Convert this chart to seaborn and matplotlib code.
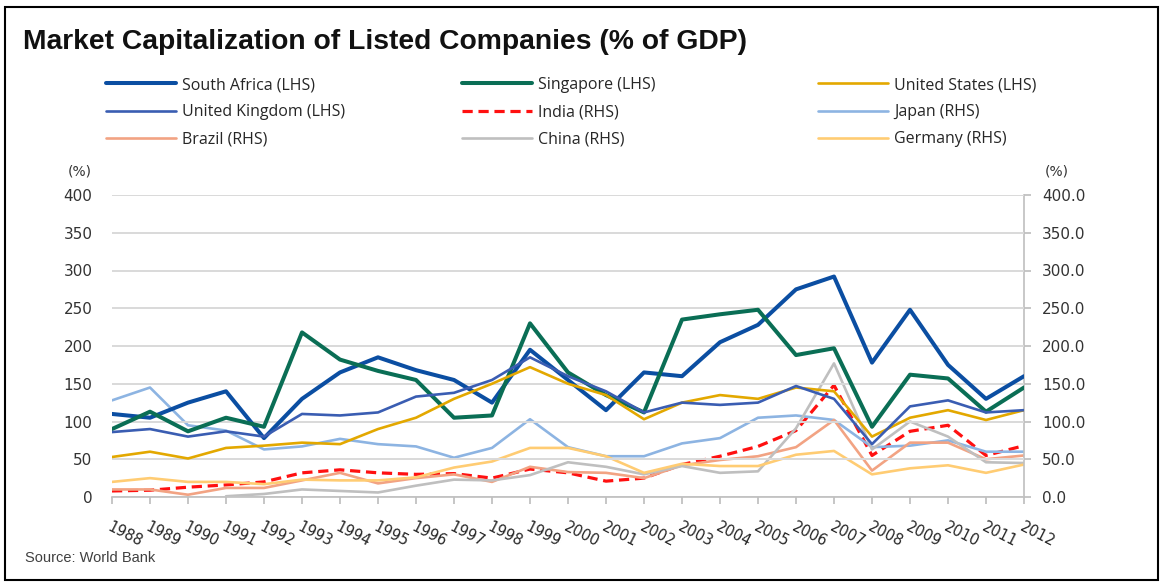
"""Market capitalization of listed companies (% of GDP), 1988-2012."""
import matplotlib
matplotlib.use("Agg")
import matplotlib.pyplot as plt
from matplotlib.patches import Rectangle
import seaborn as sns
import pandas as pd

years = list(range(1988, 2013))

# LHS series
south_africa = [110, 105, 125, 140, 78, 130, 165, 185, 168, 155, 125, 195, 155, 115,
                165, 160, 205, 228, 275, 292, 178, 248, 175, 130, 160]
singapore = [90, 113, 87, 105, 93, 218, 182, 167, 155, 105, 108, 230, 165, 135,
             112, 235, 242, 248, 188, 197, 93, 162, 157, 113, 145]
united_states = [53, 60, 51, 65, 68, 72, 70, 90, 105, 130, 150, 172, 150, 135,
                 103, 125, 135, 130, 145, 140, 80, 105, 115, 102, 115]
united_kingdom = [86, 90, 80, 87, 80, 110, 108, 112, 133, 138, 155, 185, 160, 140,
                  112, 125, 122, 125, 147, 130, 70, 120, 128, 112, 115]

# RHS series
india = [8, 9, 13, 16, 20, 32, 36, 32, 30, 31, 25, 37, 32, 21,
         25, 43, 54, 67, 88, 148, 55, 87, 95, 55, 68]
japan = [128, 145, 95, 88, 63, 67, 77, 70, 67, 52, 65, 103, 66, 54,
         54, 71, 78, 105, 108, 102, 66, 68, 75, 60, 60]
brazil = [10, 10, 3, 12, 12, 22, 32, 18, 25, 30, 20, 40, 33, 32,
          25, 42, 49, 54, 66, 102, 35, 72, 72, 50, 55]
china = [None, None, None, 1, 4, 10, 8, 6, 15, 23, 22, 29, 46, 40,
         30, 41, 32, 34, 91, 177, 63, 100, 80, 46, 45]
germany = [20, 25, 20, 20, 17, 23, 22, 22, 26, 39, 47, 65, 65, 54,
           32, 44, 41, 41, 56, 61, 30, 38, 42, 32, 43]

lhs = [
    ("South Africa (LHS)", south_africa, "#0B4EA2", 2.9, "-"),
    ("Singapore (LHS)", singapore, "#0A6E55", 2.9, "-"),
    ("United States (LHS)", united_states, "#E3A800", 1.9, "-"),
    ("United Kingdom (LHS)", united_kingdom, "#3A5DB2", 1.9, "-"),
]
rhs = [
    ("India (RHS)", india, "#FF1010", 2.3, (0, (3.2, 1.8))),
    ("Japan (RHS)", japan, "#8DB4E2", 1.9, "-"),
    ("Brazil (RHS)", brazil, "#F2A383", 1.9, "-"),
    ("China (RHS)", china, "#BFBFBF", 1.9, "-"),
    ("Germany (RHS)", germany, "#FFCC73", 1.9, "-"),
]

sns.set_theme(style="white")
plt.rcParams["font.family"] = ["Liberation Sans", "DejaVu Sans"]

W, H = 1163, 586
fig = plt.figure(figsize=(W / 100, H / 100), dpi=100)
ax = fig.add_axes([112 / W, 1 - 497 / H, (1024 - 112) / W, (497 - 195) / H])
ax2 = ax.twinx()

handles = {}
for name, vals, color, lw, ls in lhs:
    df = pd.DataFrame({"year": years, "value": vals})
    sns.lineplot(data=df, x="year", y="value", ax=ax, color=color, linewidth=lw,
                 linestyle=ls, label=name, legend=False)
    handles[name] = ax.lines[-1]
for name, vals, color, lw, ls in rhs:
    df = pd.DataFrame({"year": years, "value": vals}).dropna()
    sns.lineplot(data=df, x="year", y="value", ax=ax2, color=color, linewidth=lw,
                 linestyle=ls, label=name, legend=False)
    handles[name] = ax2.lines[-1]

# draw the LHS lines on top of the RHS ones
ax.set_zorder(ax2.get_zorder() + 1)
ax.patch.set_visible(False)

for a in (ax, ax2):
    a.set_xlim(1988, 2012)
    a.set_ylim(0, 400)
    a.set_yticks(range(0, 401, 50))
    a.set_xlabel("")
    a.set_ylabel("")
    for s in a.spines.values():
        s.set_visible(False)

ax2.grid(False)
ax.yaxis.grid(True, color="#D9D9D9", linewidth=1.4)
ax.xaxis.grid(False)
ax.set_axisbelow(True)

ax.spines["bottom"].set_visible(True)
ax.spines["bottom"].set_color("#BFBFBF")
ax.spines["bottom"].set_linewidth(1.2)
ax2.spines["right"].set_visible(True)
ax2.spines["right"].set_color("#BFBFBF")
ax2.spines["right"].set_linewidth(1.2)

tick_font = "DejaVu Sans"
ax.set_xticks(years)
ax.set_xticklabels([str(y) for y in years], rotation=-27, ha="left", va="top",
                   rotation_mode="anchor", fontsize=10.5, color="#262626",
                   family=tick_font)
ax.tick_params(axis="x", bottom=True, length=5, color="#BFBFBF", pad=11)
ax.tick_params(axis="y", left=False, length=0, pad=14, labelcolor="#333333")
for t in ax.get_yticklabels():
    t.set_family(tick_font)
    t.set_fontsize(11)
ax2.set_yticklabels([f"{v:.1f}" for v in range(0, 401, 50)], family=tick_font,
                    fontsize=11)
ax2.tick_params(axis="y", right=True, length=5, color="#BFBFBF", pad=8,
                labelcolor="#333333")

fig.text(68 / W, 1 - 172 / H, "(%)", fontsize=10, color="#333333", va="center",
         family=tick_font)
fig.text(1045 / W, 1 - 172 / H, "(%)", fontsize=10, color="#333333", va="center",
         family=tick_font)

columns = [
    (106, ["South Africa (LHS)", "United Kingdom (LHS)", "Brazil (RHS)"]),
    (462, ["Singapore (LHS)", "India (RHS)", "China (RHS)"]),
    (818, ["United States (LHS)", "Japan (RHS)", "Germany (RHS)"]),
]
for x0, names in columns:
    fig.legend([handles[n] for n in names], names, loc="upper left",
               bbox_to_anchor=(x0 / W, 1 - 77 / H), frameon=False,
               prop={"family": "Open Sans", "size": 11.5},
               handlelength=4.4, handletextpad=0.35, labelspacing=0.7,
               borderpad=0, borderaxespad=0)

fig.text(23 / W, 1 - 42 / H, "Market Capitalization of Listed Companies (% of GDP)",
         fontsize=20.3, fontweight="bold", color="#111111", va="center")
fig.text(25 / W, 1 - 558 / H, "Source: World Bank", fontsize=10.5, color="#404040",
         va="center")

fig.patches.append(Rectangle((5 / W, 6 / H), 1 - 10 / W, 1 - 13 / H,
                             transform=fig.transFigure, fill=False,
                             edgecolor="black", linewidth=1.5))

fig.savefig("out.png", dpi=100)
